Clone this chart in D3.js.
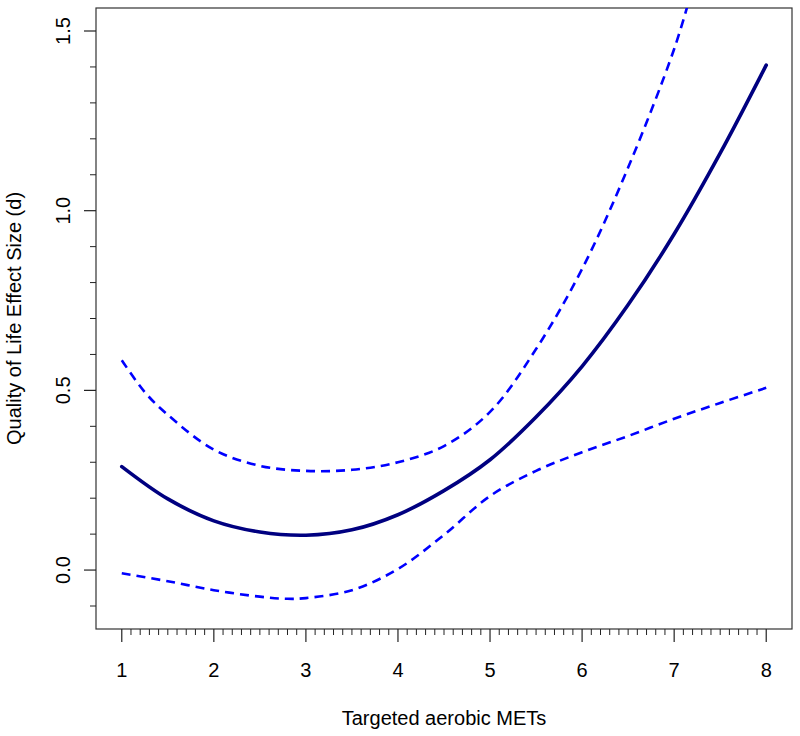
<!DOCTYPE html>
<html>
<head>
<meta charset="utf-8">
<script src="https://cdn.jsdelivr.net/npm/d3@7"></script>
<style>
  body { margin: 0; background: #fff; }
  svg { display: block; }
  text { font-family: "Liberation Sans", Arial, sans-serif; fill: #000; }
</style>
</head>
<body>
<svg id="chart" width="800" height="736"></svg>
<script>
// ---- data ----
const xTickValues = [1, 2, 3, 4, 5, 6, 7, 8];
const yTickValues = [0.0, 0.5, 1.0, 1.5];
const yTickLabels = ["0.0", "0.5", "1.0", "1.5"];

const estX   = [1.0, 1.5, 2.0, 2.5, 3.0, 3.5, 4.0, 4.5, 5.0, 5.5, 6.0, 6.5, 7.0, 7.5, 8.0];
const estY   = [0.288, 0.198, 0.137, 0.106, 0.097, 0.112, 0.154, 0.221, 0.307, 0.426, 0.567, 0.738, 0.935, 1.160, 1.405];

const upperX = [1.0, 1.25, 1.5, 2.0, 2.5, 3.0, 3.5, 4.0, 4.5, 5.0, 5.5, 6.0, 6.5, 7.0, 7.2];
const upperY = [0.584, 0.495, 0.432, 0.335, 0.290, 0.276, 0.279, 0.300, 0.345, 0.440, 0.615, 0.838, 1.120, 1.450, 1.620];

const lowerX = [1.0, 1.5, 2.0, 2.5, 2.8, 3.0, 3.5, 4.0, 4.5, 5.0, 5.5, 6.0, 6.5, 7.0, 7.5, 8.0];
const lowerY = [-0.009, -0.031, -0.056, -0.074, -0.080, -0.078, -0.056, 0.003, 0.098, 0.206, 0.276, 0.328, 0.373, 0.421, 0.465, 0.507];

const xLabel = "Targeted aerobic METs";
const yLabel = "Quality of Life Effect Size (d)";

// ---- layout ----
const pL = 96, pR = 792, pT = 8, pB = 629;
const FS = 20;
const svg = d3.select("#chart");

const x = d3.scaleLinear().domain([0.72, 8.28]).range([pL, pR]);
const y = d3.scaleLinear().domain([-0.164, 1.564]).range([pB, pT]);

svg.append("defs").append("clipPath").attr("id", "plotclip")
  .append("rect").attr("x", pL).attr("y", pT)
  .attr("width", pR - pL).attr("height", pB - pT);

// box
svg.append("rect")
  .attr("x", pL).attr("y", pT)
  .attr("width", pR - pL).attr("height", pB - pT)
  .attr("fill", "none").attr("stroke", "#333").attr("stroke-width", 1.2);

// x axis: minor ticks every 0.1
const xMinor = d3.range(10, 81).map(v => v / 10);
const xAxisG = svg.append("g");
xAxisG.selectAll("line.minor").data(xMinor.filter(v => Math.abs(v - Math.round(v)) > 1e-6))
  .join("line").attr("class", "minor")
  .attr("x1", d => x(d)).attr("x2", d => x(d))
  .attr("y1", pB).attr("y2", pB + 6)
  .attr("stroke", "#222").attr("stroke-width", 1);
xAxisG.selectAll("line.major").data(xTickValues).join("line").attr("class", "major")
  .attr("x1", d => x(d)).attr("x2", d => x(d))
  .attr("y1", pB).attr("y2", pB + 13)
  .attr("stroke", "#222").attr("stroke-width", 1.2);
xAxisG.selectAll("text").data(xTickValues).join("text")
  .attr("x", d => x(d)).attr("y", 677)
  .attr("text-anchor", "middle").attr("font-size", FS)
  .text(d => d);

// y axis: minor ticks every 0.1
const yMinor = d3.range(-1, 16).map(v => v / 10);
const yAxisG = svg.append("g");
yAxisG.selectAll("line.minor").data(yMinor.filter(v => Math.abs(v * 2 - Math.round(v * 2)) > 1e-6))
  .join("line").attr("class", "minor")
  .attr("x1", pL - 6).attr("x2", pL)
  .attr("y1", d => y(d)).attr("y2", d => y(d))
  .attr("stroke", "#222").attr("stroke-width", 1);
yAxisG.selectAll("line.major").data(yTickValues).join("line").attr("class", "major")
  .attr("x1", pL - 12).attr("x2", pL)
  .attr("y1", d => y(d)).attr("y2", d => y(d))
  .attr("stroke", "#222").attr("stroke-width", 1.2);
yAxisG.selectAll("text").data(yTickValues).join("text")
  .attr("transform", d => `translate(70,${y(d)}) rotate(-90)`)
  .attr("text-anchor", "middle").attr("font-size", FS)
  .text((d, i) => yTickLabels[i]);

// axis titles
svg.append("text")
  .attr("x", (pL + pR) / 2).attr("y", 725)
  .attr("text-anchor", "middle").attr("font-size", FS)
  .text(xLabel);
svg.append("text")
  .attr("transform", `translate(21,${(pT + pB) / 2}) rotate(-90)`)
  .attr("text-anchor", "middle").attr("font-size", FS)
  .text(yLabel);

// lines
const line = d3.line().x(d => x(d[0])).y(d => y(d[1])).curve(d3.curveCatmullRom.alpha(0.5));
const plot = svg.append("g").attr("clip-path", "url(#plotclip)");

plot.append("path")
  .datum(upperX.map((v, i) => [v, upperY[i]]))
  .attr("d", line).attr("fill", "none")
  .attr("stroke", "#0000FF").attr("stroke-width", 2.6)
  .attr("stroke-dasharray", "9,6");

plot.append("path")
  .datum(lowerX.map((v, i) => [v, lowerY[i]]))
  .attr("d", line).attr("fill", "none")
  .attr("stroke", "#0000FF").attr("stroke-width", 2.6)
  .attr("stroke-dasharray", "9,6");

plot.append("path")
  .datum(estX.map((v, i) => [v, estY[i]]))
  .attr("d", line).attr("fill", "none")
  .attr("stroke", "#000080").attr("stroke-width", 3.6)
  .attr("stroke-linecap", "round");
</script>
</body>
</html>
